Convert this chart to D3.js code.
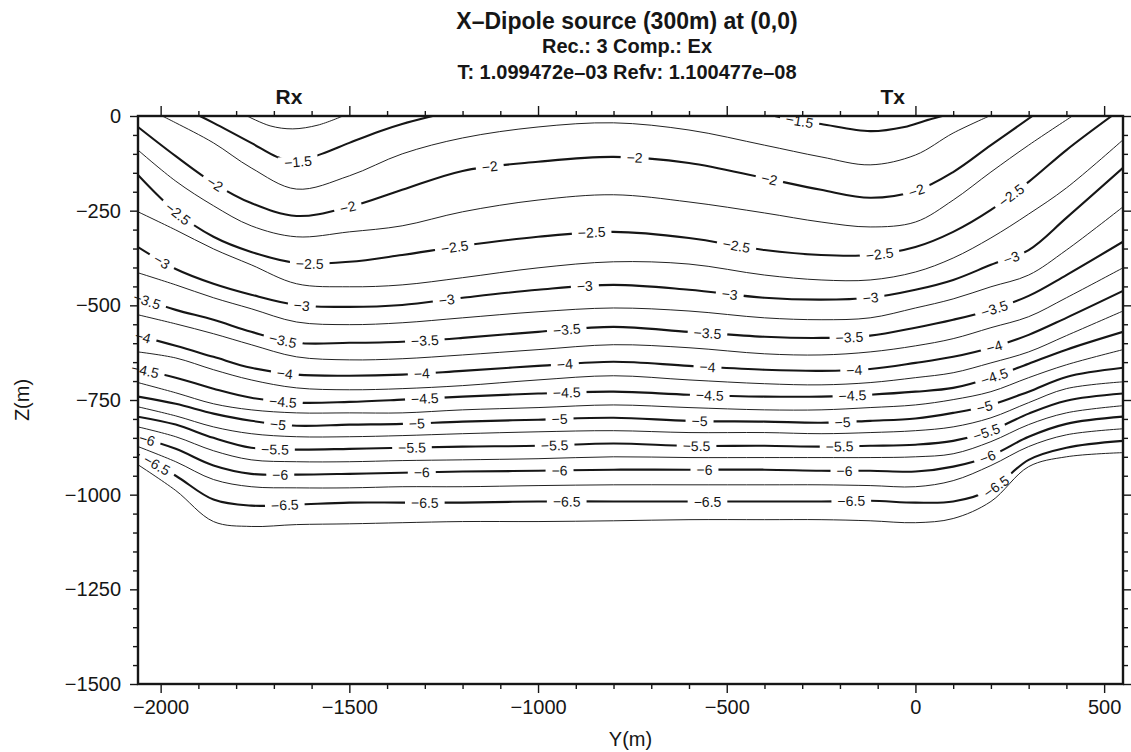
<!DOCTYPE html>
<html><head><meta charset="utf-8">
<script src="https://cdn.jsdelivr.net/npm/d3@7"></script>
<style>
html,body{margin:0;padding:0;background:#fff;}
svg{display:block;font-family:"Liberation Sans",Arial,Helvetica,sans-serif;}
</style></head><body>
<svg id="chart" width="1131" height="752"></svg>
<script>
// ---------------- DATA ----------------
const titleLines = ["X\u2013Dipole source (300m) at (0,0)", "Rec.: 3 Comp.: Ex", "T: 1.099472e\u201303 Refv: 1.100477e\u201308"];
const markers = [{name:"Rx", y:-1660}, {name:"Tx", y:-60}];
const xTicksMajor = [-2000,-1500,-1000,-500,0,500];
const zTicksMajor = [0,-250,-500,-750,-1000,-1250,-1500];

// sample columns (Y, m) for the contours that span the section
const yCols = [-2060,-1960,-1860,-1760,-1640,-1500,-1360,-1200,-1000,-800,-600,-400,-250,-120,0,100,200,300,400,550];

// contours that reach the surface: [Y, Z] pairs
const lineM125  = [[-1771,0],[-1710,-26],[-1650,-34],[-1583,-24],[-1517,0]];
const lineM150a = [[-1896,0],[-1860,-18],[-1760,-71],[-1692,-108],[-1640,-121],[-1573,-100],[-1500,-71],[-1419,-40],[-1360,-21],[-1279,0]];
const lineM150b = [[-373,0],[-307,-13],[-250,-21],[-120,-40],[-29,-29],[24,-13],[71,0]];
const lineM175  = [[-1996,0],[-1960,-18],[-1860,-71],[-1760,-137],[-1640,-193],[-1500,-158],[-1360,-100],[-1200,-58],[-1000,-29],[-800,-18],[-600,-37],[-400,-77],[-250,-108],[-120,-129],[0,-103],[100,-45],[196,0]];
const lineM200  = [[-2060,-29],[-1960,-106],[-1860,-177],[-1760,-230],[-1640,-264],[-1500,-240],[-1360,-195],[-1200,-145],[-1000,-121],[-800,-108],[-600,-124],[-400,-164],[-250,-195],[-120,-216],[0,-198],[100,-148],[200,-77],[310,0]];
const lineM225  = [[-2060,-90],[-1960,-172],[-1860,-237],[-1760,-290],[-1640,-319],[-1500,-306],[-1360,-290],[-1200,-253],[-1000,-222],[-800,-208],[-600,-227],[-400,-256],[-250,-280],[-120,-293],[0,-280],[100,-222],[200,-148],[300,-77],[416,0]];
const lineM250  = [[-2060,-156],[-1960,-253],[-1860,-319],[-1760,-359],[-1640,-388],[-1500,-385],[-1360,-367],[-1200,-343],[-1000,-319],[-800,-306],[-600,-322],[-400,-354],[-250,-367],[-120,-367],[0,-346],[100,-306],[200,-248],[300,-174],[400,-90],[520,0]];

// contours spanning the whole section: Z (m) at yCols
const zL275 = [-253,-301,-351,-393,-443,-451,-446,-427,-401,-385,-391,-420,-433,-433,-412,-375,-322,-259,-190,-63];
const zL300 = [-346,-404,-443,-472,-499,-504,-499,-480,-459,-446,-459,-480,-485,-480,-459,-433,-393,-354,-269,-137];
const zL325 = [-414,-446,-480,-509,-544,-551,-546,-533,-517,-507,-515,-533,-538,-533,-507,-483,-451,-420,-354,-240];
const zL350 = [-480,-512,-538,-570,-599,-599,-596,-586,-570,-557,-570,-583,-586,-580,-559,-538,-512,-475,-420,-332];
const zL375 = [-525,-549,-575,-604,-636,-644,-641,-631,-617,-604,-612,-628,-631,-623,-607,-588,-559,-530,-480,-401];
const zL400 = [-580,-607,-636,-665,-683,-686,-683,-673,-660,-649,-660,-670,-673,-668,-652,-636,-612,-578,-533,-462];
const zL425 = [-623,-639,-670,-697,-718,-723,-720,-712,-697,-686,-697,-707,-710,-704,-691,-678,-652,-623,-580,-515];
const zL450 = [-668,-691,-720,-744,-757,-755,-749,-741,-733,-728,-736,-741,-741,-736,-728,-718,-691,-654,-617,-570];
const zL475 = [-704,-731,-760,-776,-784,-784,-784,-776,-770,-763,-770,-776,-776,-770,-763,-749,-728,-691,-657,-617];
const zL500 = [-741,-760,-786,-805,-818,-815,-813,-807,-802,-797,-805,-807,-810,-805,-799,-784,-763,-728,-689,-665];
const zL525 = [-768,-792,-821,-839,-847,-847,-844,-839,-834,-831,-836,-836,-839,-836,-831,-821,-797,-757,-720,-702];
const zL550 = [-794,-815,-850,-876,-881,-879,-876,-873,-871,-865,-871,-871,-873,-871,-868,-858,-831,-786,-752,-733];
const zL575 = [-821,-847,-884,-908,-913,-913,-910,-908,-905,-900,-902,-902,-902,-902,-900,-892,-860,-815,-784,-765];
const zL600 = [-847,-879,-923,-945,-947,-945,-942,-939,-937,-934,-934,-934,-937,-937,-939,-926,-897,-847,-813,-794];
const zL625 = [-873,-913,-960,-979,-982,-982,-979,-979,-976,-974,-974,-974,-974,-976,-979,-963,-923,-873,-842,-826];
const zL650 = [-894,-950,-1013,-1029,-1026,-1021,-1021,-1021,-1018,-1018,-1018,-1018,-1018,-1016,-1021,-1018,-987,-908,-876,-858];
const zL675 = [-921,-989,-1071,-1084,-1079,-1077,-1074,-1071,-1071,-1069,-1066,-1066,-1066,-1069,-1074,-1063,-1018,-926,-900,-889];

// label positions (Y, m) along each labelled contour
const labM150a = [-1636];
const labM150b = [-307];
const labM200 = [-1856,-1504,-1128,-744,-387,3];
const labM250 = [-1954,-1605,-1221,-858,-474,-95,254];
const labM300 = [-1997,-1626,-1242,-876,-492,-119,254];
const labM350 = [-2036,-1676,-1300,-924,-551,-175,209];
const labM400 = [-2047,-1671,-1308,-929,-551,-162,209];
const labM450 = [-2041,-1676,-1300,-924,-545,-167,209];
const labM500 = [-1689,-1321,-943,-572,-193,183];
const labM550 = [-1697,-1334,-956,-580,-201,188];
const labM600 = [-2036,-1683,-1308,-943,-559,-188,191];
const labM650 = [-2010,-1671,-1300,-924,-551,-170,214];

const contourSet = [
  {level:-1.25, pts:lineM125,  labels:[]},
  {level:-1.5,  pts:lineM150a, labels:labM150a},
  {level:-1.5,  pts:lineM150b, labels:labM150b},
  {level:-1.75, pts:lineM175,  labels:[]},
  {level:-2,    pts:lineM200,  labels:labM200},
  {level:-2.25, pts:lineM225,  labels:[]},
  {level:-2.5,  pts:lineM250,  labels:labM250},
  {level:-2.75, pts:d3.zip(yCols,zL275), labels:[]},
  {level:-3,    pts:d3.zip(yCols,zL300), labels:labM300},
  {level:-3.25, pts:d3.zip(yCols,zL325), labels:[]},
  {level:-3.5,  pts:d3.zip(yCols,zL350), labels:labM350},
  {level:-3.75, pts:d3.zip(yCols,zL375), labels:[]},
  {level:-4,    pts:d3.zip(yCols,zL400), labels:labM400},
  {level:-4.25, pts:d3.zip(yCols,zL425), labels:[]},
  {level:-4.5,  pts:d3.zip(yCols,zL450), labels:labM450},
  {level:-4.75, pts:d3.zip(yCols,zL475), labels:[]},
  {level:-5,    pts:d3.zip(yCols,zL500), labels:labM500},
  {level:-5.25, pts:d3.zip(yCols,zL525), labels:[]},
  {level:-5.5,  pts:d3.zip(yCols,zL550), labels:labM550},
  {level:-5.75, pts:d3.zip(yCols,zL575), labels:[]},
  {level:-6,    pts:d3.zip(yCols,zL600), labels:labM600},
  {level:-6.25, pts:d3.zip(yCols,zL625), labels:[]},
  {level:-6.5,  pts:d3.zip(yCols,zL650), labels:labM650},
  {level:-6.75, pts:d3.zip(yCols,zL675), labels:[]}
];

// ---------------- DRAW ----------------
const svg = d3.select("#chart");
svg.append("rect").attr("width",1131).attr("height",752).attr("fill","#fff");

const x = d3.scaleLinear().domain([-2060,550]).range([138,1123]);
const y = d3.scaleLinear().domain([0,-1500]).range([116,684]);
const [X0,X1] = x.range(), [Y0,Y1] = y.range();
const ink = "#161616";

const defs = svg.append("defs");
defs.append("clipPath").attr("id","plotclip").append("rect")
  .attr("x",X0).attr("y",Y0).attr("width",X1-X0).attr("height",Y1-Y0);

const line = d3.line().x(d=>x(d[0])).y(d=>y(d[1])).curve(d3.curveCatmullRom.alpha(0.5));
const fmt = d3.format("~g");

const gLines = svg.append("g").attr("clip-path","url(#plotclip)");
const gLabels = svg.append("g");

contourSet.forEach((c,i)=>{
  const thick = Math.abs(c.level*2 - Math.round(c.level*2)) < 1e-9;
  const path = gLines.append("path").attr("d", line(c.pts))
    .attr("fill","none").attr("stroke", ink)
    .attr("stroke-width", thick ? 2.1 : 0.95)
    .attr("stroke-linejoin","round").attr("stroke-linecap","round");
  if (!c.labels.length) return;
  const node = path.node();
  const total = node.getTotalLength();
  const mask = defs.append("mask").attr("id","m"+i).attr("maskUnits","userSpaceOnUse")
    .attr("x",0).attr("y",0).attr("width",1131).attr("height",752);
  mask.append("rect").attr("x",0).attr("y",0).attr("width",1131).attr("height",752).attr("fill","#fff");
  c.labels.forEach(ly=>{
    const tx = x(ly);
    let lo=0, hi=total;
    for (let k=0;k<40;k++){ const m=(lo+hi)/2; if (node.getPointAtLength(m).x < tx) lo=m; else hi=m; }
    const L=(lo+hi)/2, p=node.getPointAtLength(L);
    const a=node.getPointAtLength(Math.max(0,L-6)), b=node.getPointAtLength(Math.min(total,L+6));
    let ang = Math.atan2(b.y-a.y, b.x-a.x)*180/Math.PI;
    if (ang>90) ang-=180; if (ang<-90) ang+=180;
    const t = gLabels.append("text").text(fmt(c.level))
      .attr("text-anchor","middle").attr("dy","0.36em")
      .attr("font-size",14).attr("fill",ink)
      .attr("transform",`translate(${p.x},${p.y}) rotate(${ang})`);
    const w = t.node().getComputedTextLength() + 12;
    mask.append("rect").attr("x",-w/2).attr("y",-6).attr("width",w).attr("height",12)
      .attr("fill","#000").attr("transform",`translate(${p.x},${p.y}) rotate(${ang})`);
  });
  path.attr("mask","url(#m"+i+")");
});

// axes
function styleAxis(g, labels){
  g.select(".domain").remove();
  g.selectAll(".tick line").attr("stroke",ink).attr("stroke-width",1.4);
  g.selectAll(".tick text").attr("fill",ink).attr("font-size",20)
    .attr("font-family",'"Liberation Sans",Arial,sans-serif');
}
const xMinor = d3.range(-2000,551,100).filter(v=>!xTicksMajor.includes(v));
const zMinor = d3.range(0,-1501,-50).filter(v=>!zTicksMajor.includes(v));
const intFmt = d3.format("d");

svg.append("g").attr("transform",`translate(0,${Y1})`)
  .call(d3.axisBottom(x).tickValues(xTicksMajor).tickSize(9).tickPadding(7).tickFormat(intFmt)).call(styleAxis);
svg.append("g").attr("transform",`translate(0,${Y1})`)
  .call(d3.axisBottom(x).tickValues(xMinor).tickSize(5).tickFormat("")).call(styleAxis);
svg.append("g").attr("transform",`translate(0,${Y0})`)
  .call(d3.axisTop(x).tickValues(xTicksMajor).tickSize(10).tickFormat("")).call(styleAxis);
svg.append("g").attr("transform",`translate(0,${Y0})`)
  .call(d3.axisTop(x).tickValues(xMinor).tickSize(5).tickFormat("")).call(styleAxis);
svg.append("g").attr("transform",`translate(${X0},0)`)
  .call(d3.axisLeft(y).tickValues(zTicksMajor).tickSize(8).tickPadding(9).tickFormat(intFmt)).call(styleAxis);
svg.append("g").attr("transform",`translate(${X0},0)`)
  .call(d3.axisLeft(y).tickValues(zMinor).tickSize(5).tickFormat("")).call(styleAxis);
svg.append("g").attr("transform",`translate(${X1},0)`)
  .call(d3.axisRight(y).tickValues(zTicksMajor).tickSize(8).tickFormat("")).call(styleAxis);
svg.append("g").attr("transform",`translate(${X1},0)`)
  .call(d3.axisRight(y).tickValues(zMinor).tickSize(5).tickFormat("")).call(styleAxis);

svg.append("rect").attr("x",X0).attr("y",Y0).attr("width",X1-X0).attr("height",Y1-Y0)
  .attr("fill","none").attr("stroke",ink).attr("stroke-width",2.4);

// axis titles
svg.append("text").text("Y(m)").attr("x",(X0+X1)/2).attr("y",746)
  .attr("text-anchor","middle").attr("font-size",20).attr("fill",ink);
svg.append("text").text("Z(m)").attr("transform",`translate(29,${(Y0+Y1)/2}) rotate(-90)`)
  .attr("text-anchor","middle").attr("font-size",20).attr("fill",ink);

// titles
const tSizes=[23,20,20], tBase=[29,53,79];
titleLines.forEach((t,i)=>{
  svg.append("text").text(t).attr("x",627).attr("y",tBase[i])
    .attr("text-anchor","middle").attr("font-weight","bold").attr("font-size",tSizes[i]).attr("fill",ink);
});
markers.forEach(m=>{
  svg.append("text").text(m.name).attr("x",x(m.y)).attr("y",104)
    .attr("text-anchor","middle").attr("font-weight","bold").attr("font-size",21).attr("fill",ink);
});
</script>
</body></html>
